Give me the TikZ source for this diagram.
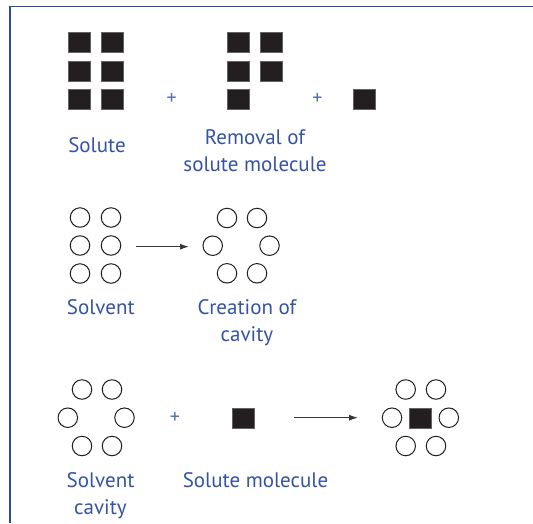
\documentclass[tikz,border=0pt]{standalone}
\usepackage{fontspec}
\setmainfont{PT Sans}
\usetikzlibrary{arrows.meta}
\definecolor{framecol}{HTML}{2B4C9E}
\definecolor{labelcol}{HTML}{3553A3}
\definecolor{solid}{HTML}{231F20}
\tikzset{
  x=1pt, y=-1pt,
  sq/.style={fill=solid, draw=solid!70!white, line width=0.4pt, minimum width=22pt, minimum height=20pt, inner sep=0pt, outer sep=0pt},
  mol/.style={circle, draw=solid, line width=1pt, minimum size=19.5pt, inner sep=0pt, outer sep=0pt},
  lbl/.style={text=labelcol, font=\fontsize{21}{27}\selectfont, anchor=base, inner sep=0pt, align=center},
  plus/.style={text=labelcol!85!white, font=\fontsize{20}{20}\selectfont, inner sep=0pt},
  react/.style={draw=solid!90!white, line width=1.1pt, -{Latex[length=9pt,width=6pt]}},
}
\begin{document}
\begin{tikzpicture}
\useasboundingbox (0,0) rectangle (533,523);
% open frame: top and left edges
\draw[framecol, line width=1.4pt] (10,523) -- (10,6.5) -- (533,6.5);

% ---- row 1: solute lattice, lattice with a vacancy, free solute molecule
\foreach \c/\x in {a/79.5,b/112.5}
  \foreach \r/\y in {1/42.3,2/70.7,3/99}
    \node[sq] (s\c\r) at (\x,\y) {};
\node[plus] (p1) at (171.7,98.5) {+};
\foreach \c/\x in {a/238,b/271}
  \foreach \r/\y in {1/42.3,2/70.7}
    \node[sq] (r\c\r) at (\x,\y) {};
\node[sq] (ra3) at (238,99) {};
\node[plus] (p2) at (317.3,98.5) {+};
\node[sq] (m1) at (364,99) {};
\node[lbl] (l1) at (97,152.3) {Solute};
% multi-line labels are placed by the baseline of their last line
\node[lbl] (l2) at (255,171.7) {Removal of\\solute molecule};

% ---- row 2: solvent and creation of a cavity
\foreach \c/\x in {a/80,b/111}
  \foreach \r/\y in {1/217.5,2/245.5,3/273.5}
    \node[mol] (v\c\r) at (\x,\y) {};
\node[mol] (ca1) at (227,218) {};
\node[mol] (cb1) at (257,218) {};
\node[mol] (ca2) at (212.7,245.7) {};
\node[mol] (cb2) at (269.5,245.7) {};
\node[mol] (ca3) at (227,273.3) {};
\node[mol] (cb3) at (257,273.3) {};
\coordinate (a1s) at (136,246.7);
\coordinate (a1e) at (189,246.7);
\draw[react] (a1s) -- (a1e);
\node[lbl] (l3) at (100.8,314.3) {Solvent};
\node[lbl] (l4) at (247,341.3) {Creation of\\cavity};

% ---- row 3: cavity plus solute gives solvated molecule
\node[mol] (ka1) at (82,389.5) {};
\node[mol] (kb1) at (112,389.5) {};
\node[mol] (ka2) at (67.8,417.7) {};
\node[mol] (kb2) at (124.5,417.7) {};
\node[mol] (ka3) at (82,446) {};
\node[mol] (kb3) at (112,446) {};
\node[plus] (p3) at (175,418) {+};
\node[sq] (m2) at (242.7,417.7) {};
\coordinate (a2s) at (294.3,417.7);
\coordinate (a2e) at (358,417.7);
\draw[react] (a2s) -- (a2e);
\node[mol] (fa1) at (405.7,389.5) {};
\node[mol] (fb1) at (436,389.5) {};
\node[mol] (fa2) at (392,417.7) {};
\node[sq] (fm) at (420.5,417.7) {};
\node[mol] (fb2) at (448.8,417.7) {};
\node[mol] (fa3) at (405.7,446) {};
\node[mol] (fb3) at (436,446) {};
\node[lbl] (l5) at (100.5,514.7) {Solvent\\cavity};
\node[lbl] (l6) at (255.5,487.7) {Solute molecule};
\end{tikzpicture}
\end{document}
